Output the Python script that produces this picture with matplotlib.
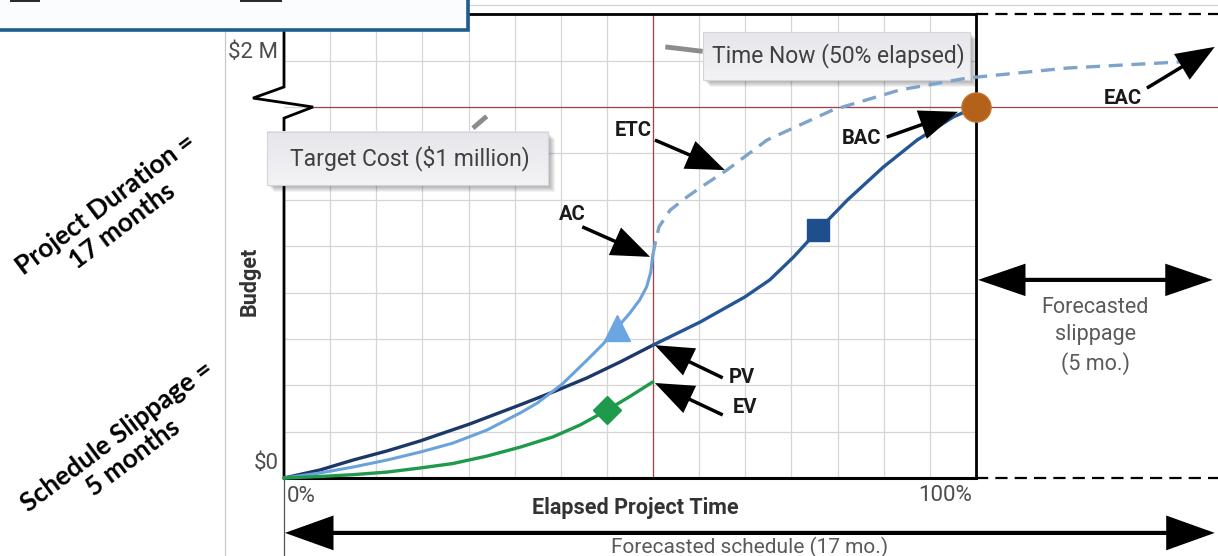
import numpy as np
import matplotlib
matplotlib.use("Agg")
import matplotlib.pyplot as plt
from matplotlib.patches import Rectangle, FancyArrowPatch

# ---------------------------------------------------------------- data
# time: % of the planned schedule, cost: $ thousands (target = $1 M)
pv_time = [0, 5.2, 10, 14.9, 19.7, 26.9, 34.1, 38.9, 43.8, 48.6, 53.3,
           60.1, 66.6, 70.2, 73.6, 77.2, 81.4, 86.6, 91.5, 96.7, 100]
pv_cost = [0, 21.6, 48.5, 73, 100, 146, 197, 232, 270, 313, 358,
           420, 488, 534, 595, 668, 749, 838, 911, 973, 1000]

ac_time = [0, 5.2, 10, 14.9, 19.7, 24.4, 29.3, 34.1, 36.6, 40.2, 43.8,
           46.1, 48.1, 50.0, 51.4, 52.4, 53.0, 53.3]
ac_cost = [0, 13.5, 29.6, 48.5, 70, 94, 129, 175, 202, 253, 318,
           361, 404, 445, 480, 515, 555, 601]

ev_time = [0, 5.2, 10, 14.9, 19.7, 24.4, 29.3, 34.1, 38.9, 42.8, 46.7, 50.0, 53.3]
ev_cost = [0, 4, 9, 16, 27, 39, 59, 83, 111, 143, 183, 220, 259]

etc_time = [53.3, 53.8, 54.2, 55.8, 58.2, 60.1, 64.0, 69.8, 79.3, 89.0,
            98.7, 113.2, 129.0, 131.0]
etc_cost = [601, 647, 677, 722, 757, 782, 830, 911, 992, 1046,
            1078, 1105, 1121, 1123]

time_now = 53.3           # status date
target_cost = 1000        # $1 M budget
bac_point = (100, 1000)
pv_marker = (77.2, 668)
ac_marker = (48.1, 404)
ev_marker = (46.7, 183)

# ---------------------------------------------------------------- canvas
X0_PX, PX_PER_PCT = 284.0, 6.92
Y0_PX, PX_PER_K = 478.0, 0.371
W, H = 1218, 556

fig = plt.figure(figsize=(W / 100, H / 100), dpi=100)
ax = fig.add_axes([0, 0, 1, 1])
ax.set_autoscale_on(False)
ax.set_xlim(-X0_PX / PX_PER_PCT, (W - X0_PX) / PX_PER_PCT)
ax.set_ylim(-(H - Y0_PX) / PX_PER_K, Y0_PX / PX_PER_K)
ax.axis("off")

XR = ax.get_xlim()[1]
YT = ax.get_ylim()[1]
YB = ax.get_ylim()[0]
TOP = 1250  # top of plotting frame


def dx(px):
    return px / PX_PER_PCT


def dy(px):
    return px / PX_PER_K


SANS = ["Roboto", "DejaVu Sans"]
HAND = ["Lato", "DejaVu Sans"]

# slide guide lines
ax.plot([dx(225 - X0_PX)] * 2, [YB, YT], color="#c9c9c9", lw=0.9, zorder=0)
ax.plot([dx(468 - X0_PX), XR], [dy(Y0_PX - 5)] * 2, color="#d0d0d0", lw=0.9, zorder=0)

# grid
for k in range(1, 15):
    ax.plot([k * 100 / 15] * 2, [0, TOP], color="#d6d6d6", lw=0.9, zorder=1)
for k in range(1, 10):
    ax.plot([0, 100], [k * 125] * 2, color="#d6d6d6", lw=0.9, zorder=1)

# time now and target cost reference lines
ax.plot([time_now] * 2, [0, TOP], color="#9e4547", lw=0.9, zorder=2)
ax.plot([4.19, XR], [target_cost] * 2, color="#9e4547", lw=0.9, zorder=2)

# frame with axis break on the budget axis
k = "black"
ax.plot([0, 100, 100], [TOP, TOP, 0], color=k, lw=2.0, zorder=3, solid_capstyle="projecting")
ax.plot([0, 100], [0, 0], color=k, lw=2.2, zorder=3, solid_capstyle="projecting")
ax.plot([0, 0, -4.48, 4.19, 0, 0], [TOP, 1054, 1024, 1000, 970, 0],
        color=k, lw=2.0, zorder=3, solid_joinstyle="miter")
ax.plot([0, 0], [0, YB], color="#555555", lw=0.9, zorder=2)

# forecast extension (dashed)
for yy in (TOP, 0):
    ax.plot([100, XR], [yy, yy], color=k, lw=1.6, dashes=(5.5, 3.2), zorder=3)

# curves
split = pv_time.index(time_now)
ax.plot(pv_time[:split + 1], pv_cost[:split + 1], color="#1c3868", lw=2.4,
        zorder=4, solid_capstyle="round", solid_joinstyle="round")
ax.plot(pv_time[split:], pv_cost[split:], color="#245594", lw=2.4,
        zorder=4, solid_capstyle="round", solid_joinstyle="round")
ax.plot(ac_time, ac_cost, color="#6aa3dc", lw=2.2, zorder=4,
        solid_capstyle="round", solid_joinstyle="round")
ax.plot(ev_time, ev_cost, color="#1f9a4c", lw=2.4, zorder=4,
        solid_capstyle="round", solid_joinstyle="round")
ax.plot(etc_time, etc_cost, color="#7fa4cb", lw=2.4, dashes=(4.2, 2.6), zorder=8)

# markers
ax.plot(*pv_marker, marker="s", ms=15.5, color="#1f4e8c", zorder=5)
ax.plot(*ac_marker, marker="^", ms=19, color="#6aa6e2", zorder=5)
ax.plot(*ev_marker, marker="D", ms=14, color="#1f9a4c", zorder=5)
ax.plot(*bac_point, marker="o", ms=21, color="#b4611a", mec="#c0762f", mew=1.0, zorder=6)


def arrow(tail, tip, style="-|>", lw=2.5, hl=1.15, hw=0.45):
    a = FancyArrowPatch(tail, tip, arrowstyle=f"{style},head_length={hl},head_width={hw}",
                        mutation_scale=20, lw=lw, color="black", shrinkA=0, shrinkB=0,
                        joinstyle="miter", capstyle="butt", zorder=9)
    ax.add_patch(a)


def label(x, y, s, ha="center"):
    ax.text(x, y, s, ha=ha, va="center", fontsize=14.5, fontweight="bold",
            family=SANS, color="#1a1a1a", zorder=9)


# pointer labels
label(41.6, 709, "AC")
arrow((43.1, 677), (52.9, 596))
label(50.4, 938, "ETC")
arrow((53.6, 911), (63.7, 830))
label(83.5, 916, "BAC")
arrow((87.1, 919), (97.4, 987))
label(121.2, 1024, "EAC")
arrow((124.7, 1051), (134.5, 1162))
label(64.3, 270, "PV", ha="left")
arrow((63.4, 270), (53.6, 358))
label(64.9, 189, "EV", ha="left")
arrow((63.4, 170), (53.6, 256))

# schedule arrows
arrow((100.3, 534), (134.2, 534), style="<|-|>", lw=3.0, hl=1.4, hw=0.48)
arrow((0.14, -148), (134.5, -148), style="<|-|>", lw=3.0, hl=1.45, hw=0.52)

ax.text(117.2, 383, "Forecasted\nslippage\n(5 mo.)", ha="center", va="center",
        fontsize=15.5, family=SANS, color="#5a5a5a", linespacing=1.4, zorder=9)
ax.text(67.3, dy(Y0_PX - 553), "Forecasted schedule (17 mo.)", ha="center",
        va="baseline", fontsize=15, family=SANS, color="#5a5a5a", zorder=9)

# axis texts
ax.text(-0.8, 1148, "$2 M", ha="right", va="center", fontsize=16, family=SANS,
        color="#4d4d4d", zorder=9)
ax.text(-0.8, 40, "$0", ha="right", va="center", fontsize=16, family=SANS,
        color="#4d4d4d", zorder=9)
ax.text(0.43, -51, "0%", ha="left", va="center", fontsize=16, family=SANS,
        color="#4d4d4d", zorder=9)
ax.text(99.4, -46, "100%", ha="right", va="center", fontsize=16, family=SANS,
        color="#4d4d4d", zorder=9)
ax.text(50.7, -81, "Elapsed Project Time", ha="center", va="center", fontsize=15.5,
        fontweight="bold", family=SANS, color="#333333", zorder=9)
ax.text(-4.9, 531, "Budget", ha="center", va="center", rotation=90, fontsize=15.5,
        fontweight="bold", family=SANS, color="#333333", zorder=9)


def callout(x0, x1, y0, y1, text, tail):
    # soft drop shadow
    for i in range(7):
        off = 1.0 + i
        ax.add_patch(Rectangle((x0 + dx(off), y0 - dy(off)), x1 - x0, y1 - y0,
                               facecolor="black", edgecolor="none", alpha=0.05, zorder=7))
    ax.plot(*tail, color="#8c8c8c", lw=3.5, solid_capstyle="butt", zorder=7)
    grad = np.linspace(0, 1, 64).reshape(-1, 1)
    ax.imshow(grad, extent=[x0, x1, y0, y1], origin="lower", aspect="auto",
              cmap=matplotlib.colors.LinearSegmentedColormap.from_list(
                  "box", ["#f3f3f6", "#e6e6eb"]), zorder=7.5)
    ax.add_patch(Rectangle((x0, y0), x1 - x0, y1 - y0, facecolor="none",
                           edgecolor="#d4d4da", lw=0.8, zorder=7.6))
    ax.text((x0 + x1) / 2 + dx(2), (y0 + y1) / 2, text, ha="center", va="center",
            fontsize=16.5, family=SANS, color="#404040", zorder=7.7)


callout(60.5, 99.1, 1073, 1202, "Time Now (50% elapsed)",
        ([55.1, 60.5], [1162, 1150]))
callout(-2.46, 38.15, 790, 933, "Target Cost ($1 million)",
        ([27.3, 29.3], [943, 975]))

# side notes
ax.text(-24.6, 709, "Project Duration =\n17 months", ha="center", va="center",
        rotation=37, rotation_mode="anchor", fontsize=19, fontweight="bold",
        family=HAND, color="black", linespacing=1.15, zorder=9)
ax.text(-23.0, 84, "Schedule Slippage =\n5 months", ha="center", va="center",
        rotation=37, rotation_mode="anchor", fontsize=19, fontweight="bold",
        family=HAND, color="black", linespacing=1.15, zorder=9)

# legend panel (top edge runs off the slide)
lx0, lx1 = ax.get_xlim()[0] - 2, dx(468 - X0_PX)
ly0 = dy(Y0_PX - 30)
ax.add_patch(Rectangle((lx0, ly0), lx1 - lx0, YT + 50 - ly0, facecolor="#fbfcfd",
                       edgecolor="#1f5c8c", lw=2.6, zorder=10, clip_on=False))
for sx0, sx1 in ((10, 40), (240, 282)):
    ax.add_patch(Rectangle((dx(sx0 - X0_PX), dy(Y0_PX - 2)), dx(sx1 - sx0), 40,
                           facecolor="#2b2b2b", edgecolor="none", zorder=11))

fig.savefig("out.png", dpi=100)
